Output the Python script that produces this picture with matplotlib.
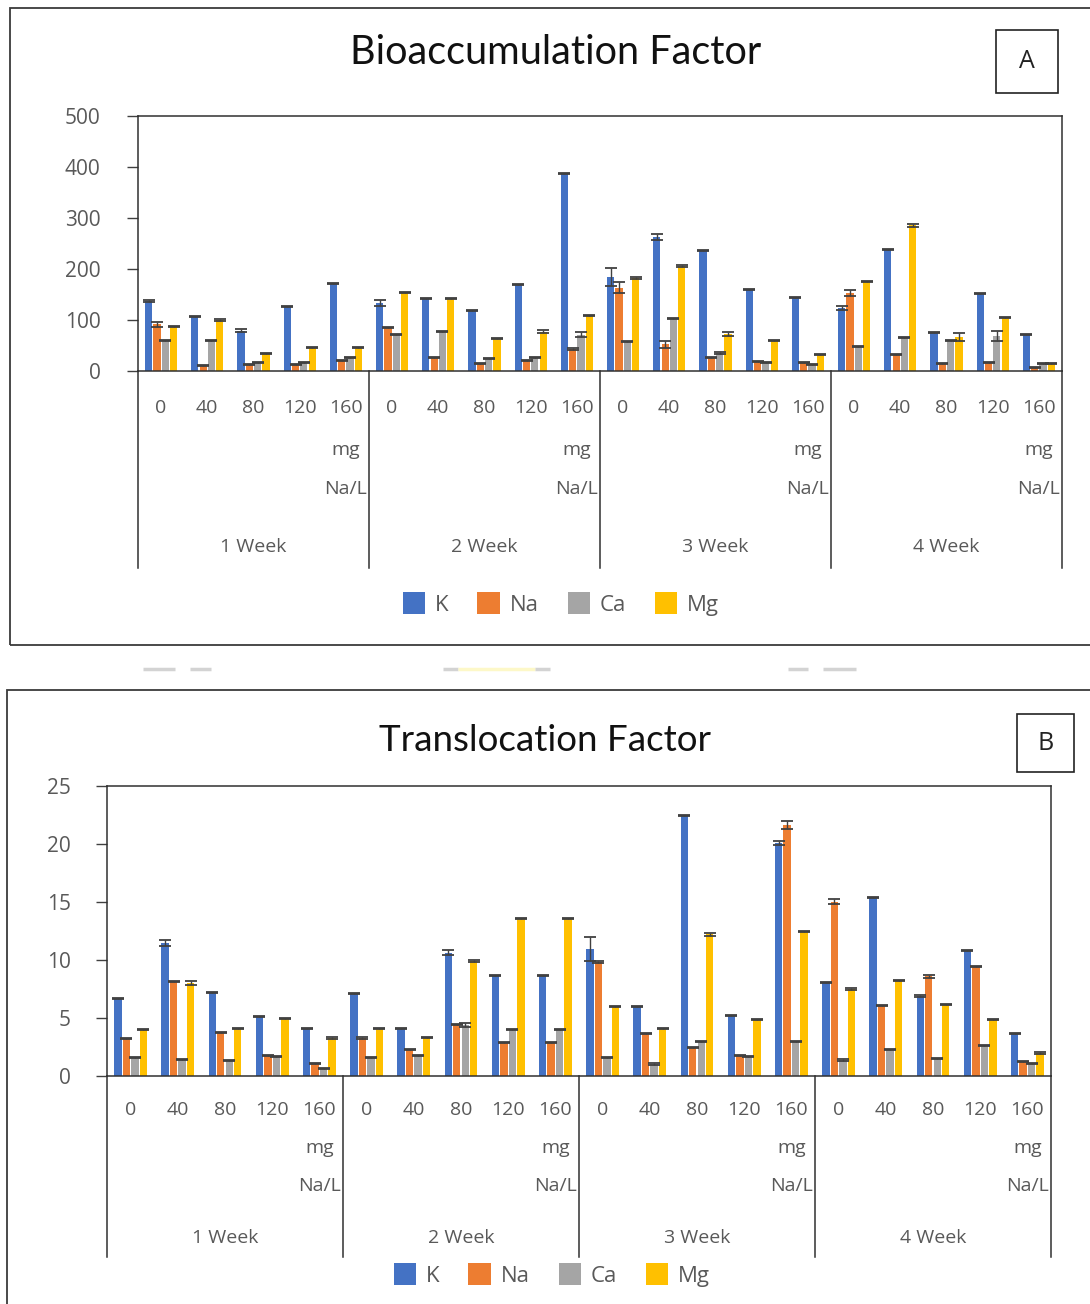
import matplotlib
matplotlib.use("Agg")
import matplotlib.pyplot as plt
from matplotlib.patches import Rectangle, Patch
from matplotlib.lines import Line2D
import numpy as np

# ---------------- data ----------------
doses = ["0", "40", "80", "120", "160"]
weeks = ["1 Week", "2 Week", "3 Week", "4 Week"]
elements = ["K", "Na", "Ca", "Mg"]
colors = ["#4472C4", "#ED7D31", "#A5A5A5", "#FFC000"]

# Bioaccumulation factor (20 categories = 4 weeks x 5 doses)
baf_K = [138, 107, 79, 127, 172, 134, 143, 118, 170, 388, 184, 262, 237, 160, 145, 124, 239, 75, 152, 72]
baf_Na = [92, 10, 12, 12, 21, 86, 26, 14, 21, 44, 163, 52, 26, 19, 16, 153, 33, 14, 16, 6]
baf_Ca = [60, 60, 17, 17, 26, 71, 78, 24, 26, 71, 57, 102, 35, 16, 12, 48, 66, 60, 68, 14]
baf_Mg = [88, 100, 35, 46, 46, 154, 143, 64, 77, 109, 182, 205, 73, 60, 32, 176, 286, 66, 104, 14]
baf_K_err = [2, 1, 3, 1, 1, 6, 1, 1, 1, 1, 17, 6, 1, 1, 1, 4, 1, 1, 1, 1]
baf_Na_err = [5, 1, 1, 1, 1, 1, 1, 1, 1, 2, 11, 7, 1, 1, 1, 5, 1, 1, 1, 1]
baf_Ca_err = [1, 1, 1, 1, 1, 1, 1, 1, 1, 5, 1, 1, 2, 1, 1, 1, 1, 1, 10, 1]
baf_Mg_err = [1, 1, 1, 1, 1, 1, 1, 1, 3, 1, 2, 2, 4, 1, 1, 1, 3, 8, 1, 1]

# Translocation factor
tf_K = [6.65, 11.5, 7.22, 5.1, 4.07, 7.1, 4.07, 10.63, 8.65, 8.65, 10.95, 6.02, 22.46, 5.19, 20.1, 8.08, 15.4, 6.9, 10.8, 3.64]
tf_Na = [3.2, 8.17, 3.72, 1.75, 1.09, 3.27, 2.29, 4.44, 2.92, 2.92, 9.83, 3.64, 2.46, 1.75, 21.63, 15.04, 6.07, 8.6, 9.43, 1.26]
tf_Ca = [1.58, 1.4, 1.32, 1.66, 0.66, 1.58, 1.75, 4.38, 4.01, 4.01, 1.58, 1.03, 3.0, 1.66, 3.0, 1.38, 2.26, 1.49, 2.64, 1.09]
tf_Mg = [4.0, 8.02, 4.07, 4.99, 3.27, 4.07, 3.35, 9.91, 13.6, 13.6, 5.96, 4.07, 12.2, 4.87, 12.46, 7.5, 8.22, 6.16, 4.87, 1.98]
tf_K_err = [0.05, 0.25, 0.05, 0.05, 0.05, 0.05, 0.05, 0.2, 0.05, 0.05, 1.06, 0.05, 0.05, 0.05, 0.15, 0.05, 0.05, 0.05, 0.05, 0.05]
tf_Na_err = [0.05, 0.05, 0.05, 0.05, 0.05, 0.05, 0.05, 0.05, 0.05, 0.05, 0.1, 0.05, 0.05, 0.05, 0.35, 0.25, 0.05, 0.15, 0.05, 0.05]
tf_Ca_err = [0.05, 0.05, 0.05, 0.05, 0.05, 0.05, 0.05, 0.15, 0.05, 0.05, 0.05, 0.05, 0.05, 0.05, 0.05, 0.05, 0.05, 0.05, 0.05, 0.05]
tf_Mg_err = [0.05, 0.15, 0.05, 0.05, 0.05, 0.05, 0.05, 0.1, 0.05, 0.05, 0.05, 0.05, 0.15, 0.05, 0.05, 0.05, 0.05, 0.05, 0.05, 0.05]

baf_yticks = [0, 100, 200, 300, 400, 500]
tf_yticks = [0, 5, 10, 15, 20, 25]

# ---------------- figure ----------------
W, H = 1090, 1304
DPI = 100
plt.rcParams["font.family"] = ["Open Sans", "DejaVu Sans"]
fig = plt.figure(figsize=(W / DPI, H / DPI), dpi=DPI)
fig.patch.set_facecolor("white")

def fx(x):
    return x / W

def fy(y):
    return 1 - y / H

TXT = "#595959"

# panel borders
fig.patches.append(Rectangle((fx(10), fy(645)), fx(1100) - fx(10), fy(8) - fy(645),
                             transform=fig.transFigure, fill=False, ec="#3a3a3a", lw=1.3))
fig.patches.append(Rectangle((fx(7), fy(1310)), fx(1100) - fx(7), fy(690) - fy(1310),
                             transform=fig.transFigure, fill=False, ec="#3a3a3a", lw=1.3))

# small artefact dashes between panels
for (x0, x1, c) in [(143, 175, "#d3d3d3"), (190, 211, "#d3d3d3"), (443, 458, "#d3d3d3"),
                    (458, 535, "#fdf8c8"), (535, 550, "#d3d3d3"), (788, 808, "#d3d3d3"),
                    (823, 856, "#d3d3d3")]:
    fig.add_artist(Line2D([fx(x0), fx(x1)], [fy(669), fy(669)], transform=fig.transFigure,
                          color=c, lw=2.5, solid_capstyle="butt"))


def draw_panel(left, right, top, bottom, series, errs, yticks, ymax, title, title_xy,
               title_size, letter, box, rows, sep_bottom, legend_y, legend_x, ypad):
    ax = fig.add_axes([fx(left), fy(bottom), fx(right) - fx(left), fy(top) - fy(bottom)])
    n = len(series[0])
    x = np.arange(n)
    step = 0.18
    width = 0.155
    for k, (vals, err, col) in enumerate(zip(series, errs, colors)):
        off = (k - 1.5) * step
        ax.bar(x + off, vals, width=width, color=col, zorder=2)
        ax.errorbar(x + off, vals, yerr=err, fmt="none", ecolor="#404040",
                    elinewidth=1.0, capsize=4.5, capthick=1.3, zorder=3)
    ax.set_xlim(-0.5, n - 0.5)
    ax.set_ylim(0, ymax)
    ax.set_yticks(yticks)
    ax.set_yticklabels([str(t) for t in yticks])
    ax.set_xticks([])
    ax.tick_params(axis="y", direction="out", length=8, width=1, color="#404040",
                   labelcolor=TXT, labelsize=15, pad=ypad)
    for s in ax.spines.values():
        s.set_color("#303030")
        s.set_linewidth(1.1)

    hpx = bottom - top
    trans = ax.get_xaxis_transform()

    def yoff(px):
        return -px / hpx

    # group separators
    for g in range(len(weeks) + 1):
        xs = g * 5 - 0.5
        ax.add_line(Line2D([xs, xs], [0, yoff(sep_bottom)], transform=trans,
                           color="#303030", lw=1.1, clip_on=False))
    # category labels
    for i in range(n):
        ax.text(i, yoff(rows[0]), doses[i % 5], transform=trans, ha="center", va="center",
                fontsize=14, color=TXT)
        if i % 5 == 4:
            ax.text(i, yoff(rows[1]), "mg", transform=trans, ha="center", va="center",
                    fontsize=14, color=TXT)
            ax.text(i, yoff(rows[2]), "Na/L", transform=trans, ha="center", va="center",
                    fontsize=14, color=TXT)
    for g, wk in enumerate(weeks):
        ax.text(g * 5 + 2, yoff(rows[3]), wk, transform=trans, ha="center", va="center",
                fontsize=14, color=TXT)

    # title
    fig.text(fx(title_xy[0]), fy(title_xy[1]), title, ha="center", va="center",
             fontsize=title_size, color="#111111", family=["Lato", "DejaVu Sans"])
    # letter box
    bx0, by0, bx1, by1 = box
    fig.patches.append(Rectangle((fx(bx0), fy(by1)), fx(bx1) - fx(bx0), fy(by0) - fy(by1),
                                 transform=fig.transFigure, fill=False, ec="#222222", lw=1.2))
    fig.text(fx((bx0 + bx1) / 2), fy((by0 + by1) / 2), letter, ha="center", va="center",
             fontsize=18, color="#222222")

    handles = [Patch(facecolor=c, edgecolor="none") for c in colors]
    fig.legend(handles, elements, loc="center", bbox_to_anchor=(fx(legend_x), fy(legend_y)),
               ncol=4, frameon=False, fontsize=16, handlelength=1.0, handleheight=1.15,
               handletextpad=0.45, columnspacing=1.3, labelcolor=TXT)
    return ax


draw_panel(138, 1062, 116, 371,
           [baf_K, baf_Na, baf_Ca, baf_Mg],
           [baf_K_err, baf_Na_err, baf_Ca_err, baf_Mg_err],
           baf_yticks, 500, "Bioaccumulation Factor", (556, 52), 28.5, "A",
           (996, 30, 1058, 93), (37, 79, 118, 176), 197, 604, 561, 19)

draw_panel(107, 1051, 786, 1076,
           [tf_K, tf_Na, tf_Ca, tf_Mg],
           [tf_K_err, tf_Na_err, tf_Ca_err, tf_Mg_err],
           tf_yticks, 25, "Translocation Factor", (545, 740), 26.5, "B",
           (1017, 714, 1074, 772), (34, 72, 110, 162), 181, 1275, 552, 18)

fig.savefig("out.png", dpi=DPI, facecolor="white")
